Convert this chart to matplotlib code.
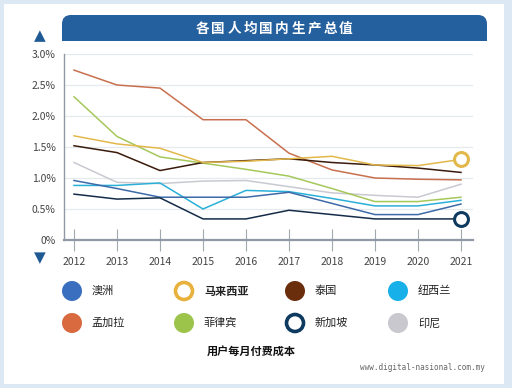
import matplotlib
matplotlib.use("Agg")
import matplotlib.pyplot as plt
from matplotlib.patches import FancyBboxPatch, Rectangle, Circle

plt.rcParams['font.family'] = ['Noto Sans CJK SC', 'DejaVu Sans']

years = [2012, 2013, 2014, 2015, 2016, 2017, 2018, 2019, 2020, 2021]
title = "各国人均国内生产总值"
subtitle = "用户每月付费成本"
source = "www.digital-nasional.com.my"
y_ticks = [0, 0.5, 1.0, 1.5, 2.0, 2.5, 3.0]
y_labels = ["0%", "0.5%", "1.0%", "1.5%", "2.0%", "2.5%", "3.0%"]

countries = ["澳洲", "马来西亚", "泰国", "纽西兰", "孟加拉", "菲律宾", "新加坡", "印尼"]
australia   = [0.96, 0.83, 0.69, 0.69, 0.69, 0.77, 0.59, 0.41, 0.41, 0.58]
malaysia    = [1.68, 1.55, 1.48, 1.25, 1.27, 1.31, 1.35, 1.21, 1.20, 1.30]
thailand    = [1.52, 1.41, 1.12, 1.25, 1.28, 1.31, 1.25, 1.21, 1.16, 1.09]
newzealand  = [0.88, 0.88, 0.92, 0.50, 0.80, 0.78, 0.67, 0.55, 0.55, 0.64]
bangladesh  = [2.74, 2.50, 2.45, 1.94, 1.94, 1.40, 1.13, 1.00, 0.98, 0.97]
philippines = [2.31, 1.67, 1.34, 1.24, 1.14, 1.03, 0.83, 0.62, 0.62, 0.69]
singapore   = [0.74, 0.66, 0.68, 0.34, 0.34, 0.48, 0.41, 0.34, 0.34, 0.34]
indonesia   = [1.25, 0.93, 0.91, 0.95, 0.96, 0.86, 0.76, 0.72, 0.69, 0.90]
series = [australia, malaysia, thailand, newzealand, bangladesh, philippines, singapore, indonesia]

line_colors = ["#3d6aa8", "#e3b84a", "#3a1a0a", "#2ab0d8", "#c8704e", "#a5c85a", "#142c48", "#c9c9d2"]
legend_colors = ["#3a6fbf", "#e8b13c", "#6b2e0c", "#18b0e8", "#d9693f", "#9cc44a", "#0d3a5e", "#c8c8ce"]
ring = [False, True, False, False, False, False, True, False]

W, H = 512, 388
fig = plt.figure(figsize=(W / 100, H / 100), dpi=100)
fig.patch.set_facecolor("#dce8f4")

# overlay axes in pixel coordinates
ov = fig.add_axes([0, 0, 1, 1])
ov.set_xlim(0, W)
ov.set_ylim(H, 0)
ov.axis("off")
ov.add_patch(Rectangle((4, 4), 500, 380, facecolor="white", edgecolor="none"))
# banner with rounded top corners
ov.add_patch(FancyBboxPatch((62, 15), 425, 26, boxstyle="round,pad=0,rounding_size=9",
                            facecolor="#245f9e", edgecolor="none"))
ov.add_patch(Rectangle((62, 30), 425, 11, facecolor="#245f9e", edgecolor="none"))
n = len(title)
step = 16.0
start = 274.0 - step * (n - 1) / 2
for k, ch in enumerate(title):
    ov.text(start + k * step, 28.5, ch, color="white", fontsize=9.8, fontweight="bold",
            ha="center", va="center")
ov.text(40, 36, "▲", color="#1f5a94", fontsize=11, ha="center", va="center",
        family="DejaVu Sans")
ov.text(40, 258, "▼", color="#1f5a94", fontsize=11, ha="center", va="center",
        family="DejaVu Sans")

# legend
col_x = [72, 184, 295, 398]
row_y = [291, 323]
for i, (name, c) in enumerate(zip(countries, legend_colors)):
    cx = col_x[i % 4]
    cy = row_y[i // 4]
    if ring[i]:
        ov.add_patch(Circle((cx, cy), 8.5, facecolor="white", edgecolor=c, linewidth=2.6))
    else:
        ov.add_patch(Circle((cx, cy), 10, facecolor=c, edgecolor="none"))
    ov.text(cx + 20, cy, name, fontsize=8, style="italic",
            fontweight="bold" if name == "马来西亚" else "normal",
            color="#222222", ha="left", va="center")
ov.text(251, 351, subtitle, fontsize=8, fontweight="bold", style="italic",
        color="#111111", ha="center", va="center")
ov.text(485, 368, source, fontsize=5.5, family="DejaVu Sans Mono", color="#666666",
        ha="right", va="center")

# main chart axes
x0, x1 = 64, 473
ytop, ybot = 54, 240
ax = fig.add_axes([x0 / W, (H - ybot) / H, (x1 - x0) / W, (ybot - ytop) / H])
ax.patch.set_alpha(0)
px_per_year = 43.0
ax.set_xlim(2012 - 10 / px_per_year, 2021 + 12 / px_per_year)
ax.set_ylim(0, 3.0)
ax.set_yticks(y_ticks)
ax.set_yticklabels(y_labels, fontsize=7.5, color="#444444")
ax.set_xticks(years)
ax.set_xticklabels([str(y) for y in years], fontsize=7.5, color="#444444")
ax.tick_params(axis="y", length=0, pad=6)
ax.tick_params(axis="x", direction="inout", length=16, width=0.8, color="#a0a8b0", pad=4)
for y in y_ticks[1:]:
    ax.axhline(y, color="#e6e9ee", linewidth=0.9, zorder=0)
for s in ["top", "right"]:
    ax.spines[s].set_visible(False)
ax.spines["left"].set_color("#8f9aa6")
ax.spines["bottom"].set_color("#8f9aa6")
ax.spines["left"].set_linewidth(1.0)
ax.spines["bottom"].set_linewidth(1.6)

order = [7, 4, 5, 3, 0, 2, 1, 6]
for i in order:
    ax.plot(years, series[i], color=line_colors[i], linewidth=1.1, zorder=3,
            clip_on=False)
# end markers
ax.plot([years[-1]], [malaysia[-1]], marker="o", markersize=10, markerfacecolor="white",
        markeredgecolor="#e3b84a", markeredgewidth=2.2, zorder=5, clip_on=False)
ax.plot([years[-1]], [singapore[-1]], marker="o", markersize=10, markerfacecolor="white",
        markeredgecolor="#0d3a5e", markeredgewidth=2.2, zorder=5, clip_on=False)

fig.savefig("out.png", dpi=100)
